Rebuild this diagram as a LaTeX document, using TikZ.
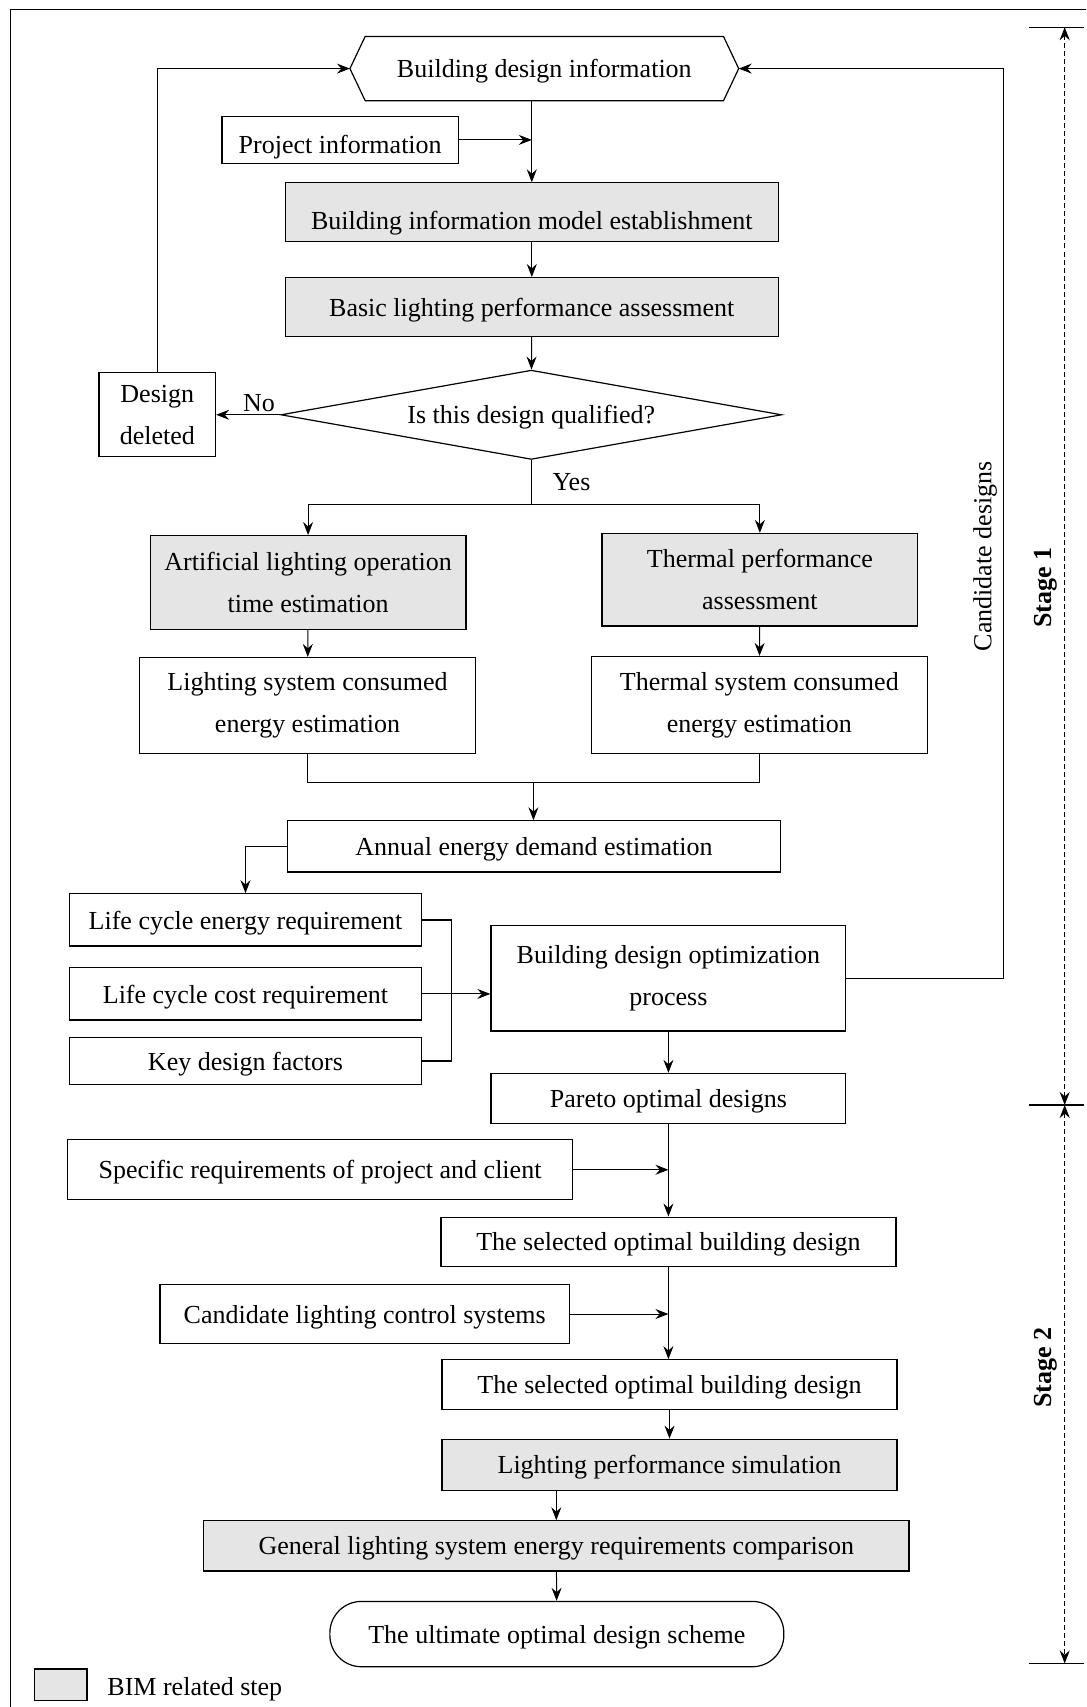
\documentclass[tikz,border=0pt]{standalone}
\usepackage{fontspec}
\setmainfont{Liberation Serif}
\usetikzlibrary{shapes.geometric,arrows.meta}
\newcommand{\px}{0.5441pt}
\definecolor{bimgray}{gray}{0.9}

\begin{document}
\begin{tikzpicture}[
  x=\px, y=-\px,
  font=\fontsize{13}{21}\selectfont,
  line width=0.6pt,
  >={Stealth[length=6.5pt,width=5pt,inset=2.2pt]},
  stepbox/.style={draw, rectangle, align=center, inner sep=2pt, text depth=0pt},
  bimbox/.style={stepbox, fill=bimgray},
  twoline/.style={text depth=},
  sz/.style 2 args={minimum width=#1*\px, minimum height=#2*\px},
  link/.style={->, line width=0.5pt},
  stage/.style={font=\fontsize{13}{15}\selectfont\bfseries, rotate=90},
  dim/.style={<->, line width=0.5pt, dash pattern=on 2.5pt off 1.5pt},
  ]
  \useasboundingbox (0,0) rectangle (998,1568);
  % Frame
  \draw (998,9) -- (10,9) -- (10,1568);
  % Stage 1 steps
  \node[sz={356}{58}, text depth=0pt] (info) at (500,63) {Building design information};
  \draw (info.west) -- ([xshift=14*\px]info.north west)
    -- ([xshift=-14*\px]info.north east) -- (info.east)
    -- ([xshift=-14*\px]info.south east)
    -- ([xshift=14*\px]info.south west) -- cycle;
  \node[stepbox, sz={217}{43}] (proj) at (312.5,128.5)
    {\raisebox{-2pt}[\height][\depth]{Project information}};
  \node[bimbox, sz={453}{54}] (bim) at (488.5,195)
    {\raisebox{-4pt}[\height][\depth]{Building information model establishment}};
  \node[bimbox, sz={453}{54}] (basic) at (488.5,282) {Basic lighting performance assessment};
  \node[draw, diamond, aspect=5.6, inner sep=0pt, text depth=0pt, sz={460}{82}] (qual)
    at (488,381) {Is this design qualified?};
  \node[stepbox, twoline, sz={107}{77}] (del) at (144.5,381) {Design\\deleted};
  \node[bimbox, twoline, sz={290}{86}] (art) at (283,535)
    {Artificial lighting operation\\time estimation};
  \node[bimbox, twoline, sz={290}{85}] (therm) at (698,532.5) {Thermal performance\\assessment};
  \node[stepbox, twoline, sz={309}{88}] (lsce) at (282.5,648)
    {Lighting system consumed\\energy estimation};
  \node[stepbox, twoline, sz={309}{89}] (tsce) at (697.5,647.5)
    {Thermal system consumed\\energy estimation};
  \node[stepbox, sz={453}{47}] (annual) at (490.5,777.5) {Annual energy demand estimation};
  \node[stepbox, sz={323}{48}] (lce) at (225.5,845) {Life cycle energy requirement};
  \node[stepbox, sz={323}{48}] (lcc) at (225.5,913) {Life cycle cost requirement};
  \node[stepbox, sz={323}{43}] (kdf) at (225.5,974.5) {Key design factors};
  \node[stepbox, twoline, sz={326}{97}] (opt) at (614,898.5)
    {Building design optimization\\process};
  \node[stepbox, sz={326}{46}] (pareto) at (614,1009) {Pareto optimal designs};
  % Stage 2 steps
  \node[stepbox, sz={464}{55}] (spec) at (294,1074.5)
    {Specific requirements of project and client};
  \node[stepbox, sz={418}{45}] (sel1) at (614,1140.5) {The selected optimal building design};
  \node[stepbox, sz={376}{54}] (clcs) at (335,1207) {Candidate lighting control systems};
  \node[stepbox, sz={418}{46}] (sel2) at (615,1272) {The selected optimal building design};
  \node[bimbox, sz={418}{47}] (lps) at (615,1345.5) {Lighting performance simulation};
  \node[bimbox, sz={648}{46}] (glse) at (511,1420)
    {General lighting system energy requirements comparison};
  \node[stepbox, rounded corners=29*\px, sz={417}{60}] (ult) at (511.5,1501)
    {The ultimate optimal design scheme};
  % Legend
  \node[bimbox, sz={48}{29}] (key) at (56,1547.5) {};
  \node[anchor=west, text depth=0pt] (keytext) at (92,1549) {BIM related step};
  % Connectors
  \coordinate (rt) at (922,63);
  \coordinate (split) at (488,463);
  \coordinate (join) at (490,719);
  \coordinate (brk) at (415,913);
  \draw[link] (info.south -| bim.north) -- (bim.north);
  \draw[link] (proj.east) -- (proj.east -| bim.north);
  \draw[link] (bim) -- (basic);
  \draw[link] (basic) -- (qual);
  \draw[link] (qual.west) -- (del.east) node[pos=0.33, above=-2pt] (no) {No};
  \draw[link] (del.north) |- (info.west);
  \draw (qual.south) -- (split) node[midway, right=7pt] (yes) {Yes};
  \draw[link] (split) -| (art.north);
  \draw[link] (split) -| (therm.north);
  \draw[link] (art) -- (lsce);
  \draw[link] (therm) -- (tsce);
  \draw (lsce.south) |- (join) -| (tsce.south);
  \draw[link] (join) -- (annual.north -| join);
  \draw[link] (annual.west) -| (lce.north);
  \draw (lce.east) -| (brk) |- (kdf.east);
  \draw[link] (lcc.east) -- (lcc.east -| opt.west);
  \draw[link] (opt.east) -| (rt) -- (info.east);
  \node[rotate=90] (cand) at (905,511) {Candidate designs};
  \draw[link] (opt) -- (pareto);
  \draw[link] (pareto) -- (sel1);
  \draw[link] (spec.east) -- (spec.east -| pareto.south);
  \draw[link] (sel1.south) -- (sel1.south |- sel2.north);
  \draw[link] (clcs.east) -- (clcs.east -| sel1.south);
  \draw[link] (sel2) -- (lps);
  \draw[link] (lps.south -| glse.north) -- (glse.north);
  \draw[link] (glse) -- (ult);
  % Stage dimension lines
  \coordinate (s0) at (978,25);
  \coordinate (s1) at (978,1015);
  \coordinate (s2) at (978,1528);
  \foreach \s in {s0,s1,s2}
    \draw ([xshift=-33*\px]\s) -- ([xshift=18*\px]\s);
  \draw[dim] (s0) -- (s1) node[stage, pos=0.52, anchor=south] (stage1) {Stage 1};
  \draw[dim] (s1) -- (s2) node[stage, pos=0.47, anchor=south] (stage2) {Stage 2};
\end{tikzpicture}
\end{document}
